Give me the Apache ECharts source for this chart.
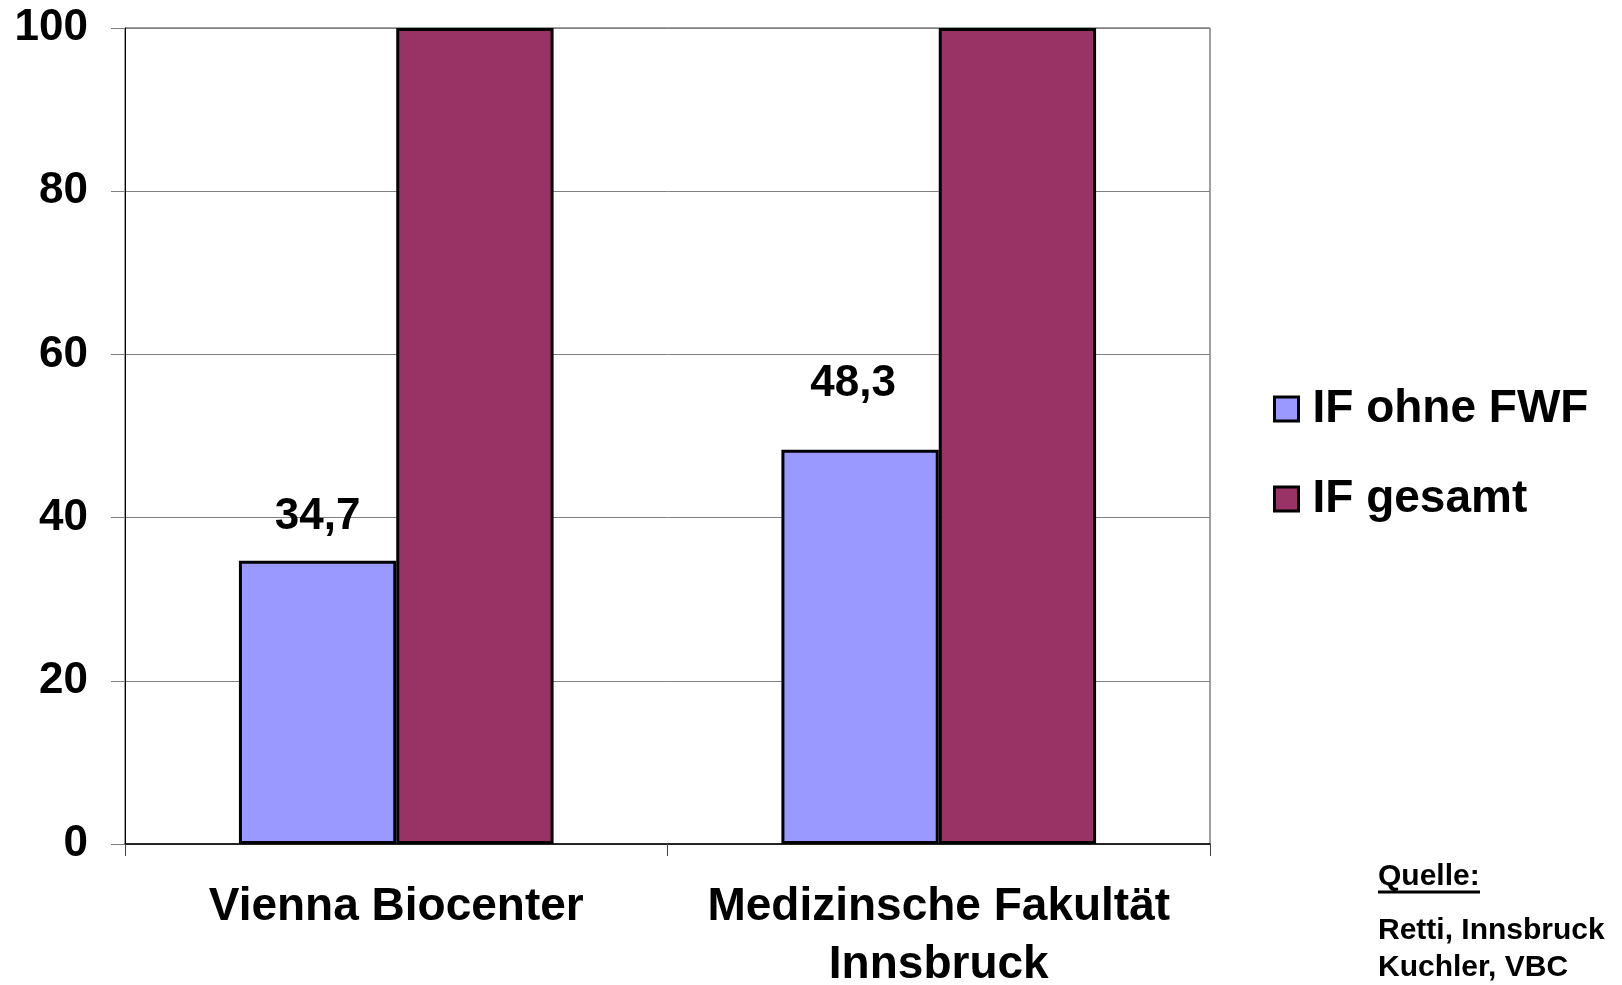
<!DOCTYPE html>
<html>
<head>
<meta charset="utf-8">
<script src="https://cdn.jsdelivr.net/npm/echarts@6/dist/echarts.min.js"></script>
<style>
  html, body { margin: 0; padding: 0; background: #fff; }
  #chart { width: 1622px; height: 985px; }
</style>
</head>
<body>
<div id="chart"></div>
<script>
const categories = ['Vienna Biocenter', 'Medizinsche Fakultät\nInnsbruck'];
const seriesNames = ['IF ohne FWF', 'IF gesamt'];
const ifOhneFwf = [34.7, 48.3];
const ifGesamt = [100, 100];
const yTicks = [0, 20, 40, 60, 80, 100];
const sourceTitle = 'Quelle:';
const sourceLines = ['Retti, Innsbruck', 'Kuchler, VBC'];

const FONT = "'Liberation Sans', Arial, sans-serif";

const myChart = echarts.init(document.getElementById('chart'), null, { renderer: 'canvas' });

const option = {
  backgroundColor: '#fff',
  animation: false,
  textStyle: { fontFamily: FONT },
  grid: {
    left: 125,
    right: 412,
    top: 28,
    bottom: 141,
    containLabel: false,
    outerBoundsMode: 'none',
    show: true,
    borderColor: '#404040',
    borderWidth: 1,
  },
  legend: {
    data: seriesNames,
    orient: 'vertical',
    left: 1268,
    top: 379,
    itemWidth: 24,
    itemHeight: 24,
    itemGap: 40,
    icon: 'rect',
    itemStyle: { borderColor: '#000', borderWidth: 3 },
    textStyle: {
      fontFamily: FONT,
      fontSize: 46,
      fontWeight: 'bold',
      color: '#000',
      lineHeight: 50,
      padding: [0, 0, 0, 9],
    },
  },
  xAxis: {
    type: 'category',
    data: categories,
    axisLine: { lineStyle: { color: '#000', width: 1.5 } },
    axisTick: { show: true, interval: 0, length: 12, lineStyle: { color: '#404040' } },
    axisLabel: {
      interval: 0,
      margin: 34,
      fontFamily: FONT,
      fontSize: 46,
      fontWeight: 'bold',
      color: '#000',
      lineHeight: 58,
    },
  },
  yAxis: {
    type: 'value',
    min: yTicks[0],
    max: yTicks[yTicks.length - 1],
    interval: yTicks[1] - yTicks[0],
    axisLine: { show: true, lineStyle: { color: '#000', width: 1 } },
    axisTick: { show: true, length: 14, lineStyle: { color: '#808080' } },
    splitLine: { show: true, lineStyle: { color: '#808080', width: 1 } },
    axisLabel: {
      margin: 37,
      fontFamily: FONT,
      fontSize: 44,
      fontWeight: 'bold',
      color: '#000',
    },
  },
  series: [
    {
      name: seriesNames[0],
      type: 'bar',
      barGap: '0%',
      barCategoryGap: '42%',
      itemStyle: { color: '#9999FF', borderColor: '#000', borderWidth: 3 },
      label: {
        show: true,
        position: 'top',
        distance: 22,
        fontFamily: FONT,
        fontSize: 44,
        fontWeight: 'bold',
        color: '#000',
        formatter: p => String(p.value).replace('.', ','),
      },
      // second label sits higher and a bit left in the original
      data: ifOhneFwf.map((v, i) => (i === 1 ? { value: v, label: { distance: 44, offset: [-7, 0] } } : v)),
    },
    {
      name: seriesNames[1],
      type: 'bar',
      itemStyle: { color: '#993366', borderColor: '#000', borderWidth: 3 },
      data: ifGesamt,
    },
  ],
  graphic: [
    {
      type: 'text',
      left: 1378,
      top: 862,
      style: { text: sourceTitle, font: `bold 30px ${FONT}`, fill: '#000' },
    },
    {
      type: 'line',
      shape: { x1: 1378, y1: 892, x2: 1480, y2: 892 },
      style: { stroke: '#000', lineWidth: 3 },
    },
    {
      type: 'text',
      left: 1378,
      top: 912,
      style: { text: sourceLines.join('\n'), font: `bold 30px ${FONT}`, fill: '#000', lineHeight: 37 },
    },
  ],
};

myChart.setOption(option, true);
</script>
</body>
</html>
